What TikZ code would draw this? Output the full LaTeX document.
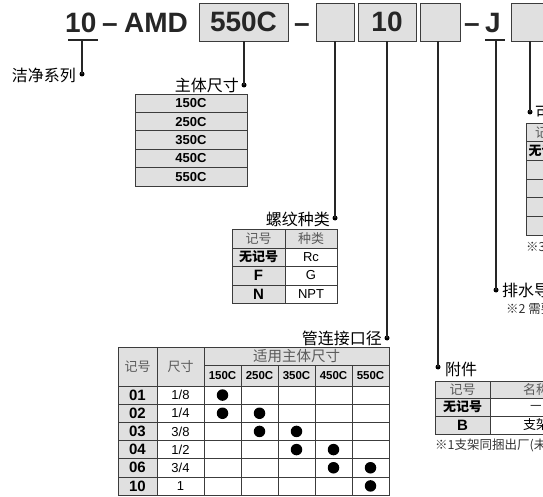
\documentclass[tikz,border=0pt]{standalone}
\usepackage{fontspec}
\setmainfont{Liberation Sans}
\newfontfamily\cjk{Noto Sans CJK SC}
\usetikzlibrary{calc}
\definecolor{cellgrey}{HTML}{E0E0E0}
\definecolor{rulec}{HTML}{3C3C3C}
\definecolor{headtxt}{HTML}{5A5A5A}
\begin{document}
\begin{tikzpicture}[x=1pt,y=-1pt,
  big/.style={font=\fontsize{28}{28}\selectfont\bfseries, inner sep=0pt, text=black!85},
  codebox/.style={draw=rulec, line width=0.9pt, fill=cellgrey, minimum height=38pt, inner sep=0pt, font=\fontsize{28}{28}\selectfont\bfseries, text=black!85},
  ldot/.style={circle, fill=black, inner sep=0pt, minimum size=5pt},
  lab/.style={font=\cjk\fontsize{16}{16}\selectfont, inner sep=0pt},
  lead/.style={line width=1.1pt, black!85},
  gcell/.style={fill=cellgrey, draw=rulec, line width=0.7pt},
  wcell/.style={fill=white, draw=rulec, line width=0.7pt},
  hd/.style={font=\cjk\fontsize{13}{13}\selectfont, text=headtxt, inner sep=0pt},
  cjkb/.style={font=\cjk\fontsize{13}{13}\selectfont\bfseries, inner sep=0pt},
  cjkr/.style={font=\cjk\fontsize{13}{13}\selectfont, inner sep=0pt},
  szt/.style={font=\fontsize{13}{13}\selectfont\bfseries, inner sep=0pt},
  subt/.style={font=\fontsize{11.5}{11.5}\selectfont\bfseries, inner sep=0pt},
  codet/.style={font=\fontsize{15}{15}\selectfont\bfseries, inner sep=0pt},
  valt/.style={font=\fontsize{13}{13}\selectfont, inner sep=0pt},
  bul/.style={circle, fill=black, inner sep=0pt, minimum size=11.5pt},
  fnt/.style={font=\cjk\fontsize{12.5}{12.5}\selectfont, inner sep=0pt, text=black!80},
]
\useasboundingbox (0,0) rectangle (543,497);
\clip (0,0) rectangle (543,497);

% ---------- title line ----------
\node[big, anchor=base west] (t10) at (65,33) {10};
\node[big, anchor=base west] (td1) at (102,33) {–};
\node[big, anchor=base west] (tamd) at (124,33) {AMD};
\node[codebox, minimum width=89pt] (b550) at (243.5,22) {550C};
\node[big, anchor=base west] (td2) at (294,33) {–};
\node[codebox, minimum width=38pt] (bth) at (335,22) {};
\node[codebox, minimum width=58pt] (bsz) at (387,22) {10};
\node[codebox, minimum width=40pt] (bacc) at (440,22) {};
\node[big, anchor=base west] (td3) at (464,33) {–};
\node[big, anchor=base west] (tj) at (485,33) {J};
\node[codebox, minimum width=40pt] (bopt) at (531,22) {};

\coordinate (ua1) at (68,40);
\coordinate (ua2) at (98,40);
\coordinate (uam) at (82,40);
\coordinate (ub1) at (485,40);
\coordinate (ub2) at (505,40);
\coordinate (ubm) at (496,40);

% ---------- dots ----------
\node[ldot] (d10) at (82,74) {};
\node[ldot] (d550) at (244,85) {};
\node[ldot] (dth) at (335,218) {};
\node[ldot] (dsz) at (387,338) {};
\node[ldot] (dacc) at (438,367) {};
\node[ldot] (dj) at (496,290) {};
\node[ldot] (dopt) at (530,112) {};

% ---------- leaders ----------
\draw[lead] (ua1) -- (ua2);
\draw[lead] (uam) -- (d10.center);
\draw[lead] (b550.south -| d550) -- (d550.center);
\draw[lead] (bth.south -| dth) -- (dth.center);
\draw[lead] (bsz.south -| dsz) -- (dsz.center);
\draw[lead] (bacc.south -| dacc) -- (dacc.center);
\draw[lead] (ub1) -- (ub2);
\draw[lead] (ubm) -- (dj.center);
\draw[lead] (bopt.south -| dopt) -- (dopt.center);

% ---------- labels ----------
\node[lab, anchor=east] (l10) at (76,75) {洁净系列};
\node[lab, anchor=east] (l550) at (239,85.5) {主体尺寸};
\node[lab, anchor=east] (lth) at (330,219) {螺纹种类};
\node[lab, anchor=east] (lsz) at (382,338) {管连接口径};
\node[lab, anchor=west] (lacc) at (445,369) {附件};
\node[lab, anchor=west] (lj) at (502,290.5) {排水导管};
\node[lab, anchor=west] (lopt) at (535,112.5) {可选项};

% ---------- body size table ----------
\foreach \t [count=\i] in {150C,250C,350C,450C,550C} {
  \path[gcell] (135,{94+(\i-1)*18.4}) rectangle (247,{94+\i*18.4});
  \node[szt] (sz\i) at (191,{94+(\i-0.5)*18.4}) {\t};
}

% ---------- thread table ----------
\path[gcell] (232,229) rectangle (285,248);
\path[gcell] (285,229) rectangle (337,248);
\node[hd] (th1) at (258.5,238.5) {记号};
\node[hd] (th2) at (311,238.5) {种类};
\path[gcell] (232,248) rectangle (285,266);
\path[wcell] (285,248) rectangle (337,266);
\path[gcell] (232,266) rectangle (285,285);
\path[wcell] (285,266) rectangle (337,285);
\path[gcell] (232,285) rectangle (285,303);
\path[wcell] (285,285) rectangle (337,303);
\node[cjkb] (tc1) at (258.5,257) {无记号};
\node[codet] (tc2) at (258.5,275.5) {F};
\node[codet] (tc3) at (258.5,294) {N};
\node[valt] (tv1) at (311,257) {Rc};
\node[valt] (tv2) at (311,275.5) {G};
\node[valt] (tv3) at (311,294) {NPT};

% ---------- port size table ----------
\path[gcell] (118,347) rectangle (157,386);
\path[gcell] (157,347) rectangle (204,386);
\path[gcell] (204,347) rectangle (389,365);
\node[hd] (ph1) at (137.5,366.5) {记号};
\node[hd] (ph2) at (180.5,366.5) {尺寸};
\node[hd, font=\cjk\fontsize{14.5}{14.5}\selectfont] (ph3) at (296.5,356) {适用主体尺寸};
\foreach \s [count=\c] in {150C,250C,350C,450C,550C} {
  \path[gcell] ({204+37*(\c-1)},365) rectangle ({204+37*\c},386);
  \node[subt] (ps\c) at ({204+37*(\c-0.5)},375.8) {\s};
}
\newcommand\piperow[3]{%
  \pgfmathsetmacro\ya{386+18.17*(#1-1)}%
  \pgfmathsetmacro\yb{386+18.17*#1}%
  \path[gcell] (118,\ya) rectangle (157,\yb);
  \path[wcell] (157,\ya) rectangle (204,\yb);
  \foreach \c in {1,...,5} {\path[wcell] ({204+37*(\c-1)},\ya) rectangle ({204+37*\c},\yb);}
  \node[codet] (pc#1) at (137.5,{(\ya+\yb)/2}) {#2};
  \node[valt] (pv#1) at (180.5,{(\ya+\yb)/2}) {#3};
}
\piperow{1}{01}{1/8}
\piperow{2}{02}{1/4}
\piperow{3}{03}{3/8}
\piperow{4}{04}{1/2}
\piperow{5}{06}{3/4}
\piperow{6}{10}{1}
\foreach \r/\c in {1/1,2/1,2/2,3/2,3/3,4/3,4/4,5/4,5/5,6/5}
  \node[bul] (pd\r\c) at ({204+37*(\c-0.5)},{386+18.17*(\r-0.5)}) {};

% ---------- accessory table ----------
\path[gcell] (435,381) rectangle (490,398);
\path[gcell] (490,381) rectangle (582,398);
\path[gcell] (435,398) rectangle (490,416);
\path[wcell] (490,398) rectangle (582,416);
\path[gcell] (435,416) rectangle (490,434);
\path[wcell] (490,416) rectangle (582,434);
\node[hd] (ah1) at (462.5,389.5) {记号};
\node[hd] (ah2) at (536,389.5) {名称};
\node[cjkb] (ac1) at (462.5,407) {无记号};
\node[codet] (ac2) at (462.5,425) {B};
\node[cjkr] (av1) at (536,407) {—};
\node[cjkr] (av2) at (536,425) {支架};
\node[fnt, anchor=west] (afn) at (435,445) {※1支架同捆出厂(未组装)};

% ---------- drain ----------
\node[fnt, anchor=west] (jfn) at (506,309) {※2 需要};

% ---------- option table ----------
\foreach \k in {0,...,5} {
  \path[gcell] (526,{123+18.67*\k}) rectangle (570,{123+18.67*(\k+1)});
}
\path[gcell] (570,123) rectangle (640,141.67);
\node[hd] (oh1) at (548,132.3) {记号};
\node[cjkb] (oc1) at (548,151) {无记号};
\node[fnt, anchor=west] (ofn) at (526,247) {※3};
\end{tikzpicture}
\end{document}
